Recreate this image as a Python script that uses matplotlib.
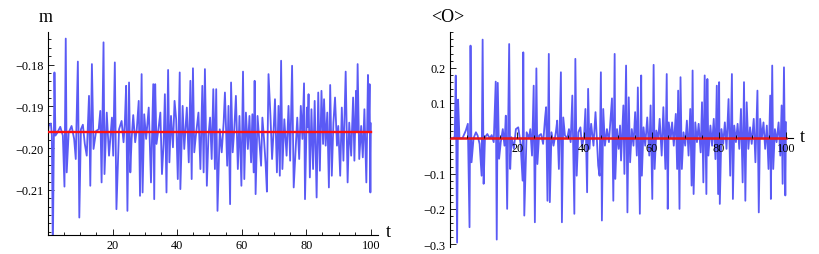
import matplotlib
matplotlib.use('Agg')
import matplotlib.pyplot as plt
from matplotlib.ticker import MultipleLocator

# m(t) (peaks and troughs)
t_m = [0.0, 0.2, 0.9, 1.2, 1.5, 2.0, 2.3, 2.9, 3.8, 4.6, 5.1, 5.5, 5.8, 6.4, 7.3,
       8.1, 8.6, 9.25, 9.7, 10.2, 10.8, 11.4, 12.0, 12.7, 13.1, 13.6, 14.1, 14.9,
       15.7, 16.2, 16.6, 17.2, 17.5, 18.2, 18.9, 19.8, 20.2, 20.7, 21.2, 22.0,
       22.8, 23.4, 23.8, 24.2, 24.6, 25.1, 25.5, 25.9, 26.4, 27.0, 27.5, 28.1,
       28.5, 29.0, 29.3, 29.8, 30.4, 31.2, 31.9, 32.6, 32.9, 33.2, 33.6, 34.2,
       34.8, 35.3, 35.8, 36.2, 36.7, 37.2, 37.6, 38.1, 38.7, 39.2, 39.7, 40.2,
       40.8, 41.0, 41.7, 42.2, 43.0, 43.6, 44.1, 44.5, 44.9, 45.3, 45.8, 46.6,
       47.2, 47.8, 48.2, 48.6, 49.2, 49.7, 50.2, 50.7, 51.2, 51.7, 52.1, 52.5,
       53.2, 53.8, 54.4, 54.8, 55.5, 55.9, 56.4, 56.7, 57.2, 57.7, 58.2, 58.8,
       59.3, 59.9, 60.4, 60.8, 61.3, 61.9, 62.4, 62.9, 63.3, 63.7, 64.0, 64.3,
       64.9, 65.5, 66.0, 66.4, 66.9, 67.4, 67.8, 68.3, 68.9, 69.4, 69.9, 70.3,
       70.9, 71.4, 71.8, 72.2, 72.6, 73.2, 73.9, 74.5, 75.0, 75.6, 76.1, 77.2,
       77.8, 78.3, 78.8, 79.3, 79.6, 80.2, 80.45, 80.7, 81.1, 81.6, 82.1, 82.6,
       83.2, 83.7, 84.2, 84.7, 85.2, 85.5, 86.0, 86.5, 87.0, 87.4, 87.9, 88.4,
       88.9, 89.5, 89.9, 90.5, 91.0, 91.5, 92.2, 92.8, 93.3, 93.9, 94.5, 94.9,
       95.4, 95.65, 95.9, 96.4, 97.0, 97.5, 98.0, 98.6, 99.1, 99.35, 99.6,
       99.85, 100.0]
m_vals = [-0.1960, -0.1947, -0.1941, -0.1969, -0.2250, -0.1819, -0.1970, -0.1963,
          -0.1949, -0.1970, -0.2092, -0.1738, -0.2058, -0.1963, -0.1947, -0.1978,
          -0.2026, -0.1793, -0.2166, -0.1955, -0.1944, -0.1990, -0.2018, -0.1875,
          -0.2090, -0.1799, -0.2002, -0.1959, -0.1955, -0.1911, -0.2082, -0.1747,
          -0.2062, -0.1915, -0.2018, -0.1927, -0.2018, -0.1795, -0.2146, -0.1955,
          -0.1935, -0.1986, -0.1939, -0.1851, -0.2150, -0.1843, -0.2058, -0.1978,
          -0.1921, -0.1986, -0.1955, -0.1887, -0.2114, -0.1823, -0.2106, -0.1919,
          -0.1978, -0.1903, -0.2082, -0.1847, -0.2122, -0.1847, -0.1990, -0.1955,
          -0.1915, -0.2062, -0.1990, -0.1871, -0.2106, -0.1813, -0.2034, -0.1923,
          -0.1998, -0.1887, -0.1931, -0.2074, -0.1819, -0.2098, -0.1899, -0.2002,
          -0.1903, -0.2034, -0.1839, -0.2074, -0.1809, -0.2010, -0.1970, -0.1915,
          -0.2050, -0.1851, -0.2058, -0.1811, -0.2090, -0.1970, -0.1927, -0.2026,
          -0.1859, -0.2050, -0.1859, -0.2150, -0.1955, -0.2010, -0.1939, -0.1867,
          -0.2042, -0.1899, -0.2134, -0.1843, -0.2010, -0.1955, -0.1875, -0.2050,
          -0.1923, -0.2090, -0.1817, -0.2074, -0.1915, -0.2002, -0.1923, -0.2034,
          -0.1919, -0.2058, -0.1839, -0.2110, -0.1923, -0.1990, -0.2042, -0.1927,
          -0.1978, -0.2038, -0.2104, -0.1823, -0.1923, -0.2026, -0.1955, -0.1883,
          -0.2058, -0.1899, -0.2066, -0.1791, -0.2050, -0.1931, -0.2018, -0.1899,
          -0.2030, -0.1803, -0.2094, -0.1927, -0.2026, -0.1899, -0.1978, -0.1845,
          -0.2122, -0.1903, -0.1950, -0.1871, -0.2070, -0.1907, -0.2050, -0.1887,
          -0.2118, -0.1867, -0.2054, -0.1863, -0.1990, -0.1883, -0.1994, -0.1915,
          -0.2094, -0.1849, -0.2066, -0.1939, -0.1879, -0.1994, -0.1947, -0.2066,
          -0.1903, -0.2030, -0.1817, -0.2082, -0.1939, -0.2018, -0.1879, -0.2030,
          -0.1863, -0.1960, -0.1799, -0.2026, -0.1947, -0.2022, -0.1907, -0.2082,
          -0.1825, -0.1960, -0.1847, -0.2106, -0.1941]
m_mean = -0.1961

# <O>(t)
t_o = [0.0, 1.0, 1.4, 1.7, 2.1, 2.4, 2.8, 3.7, 4.7, 5.3, 5.8, 6.1, 6.4, 7.0, 7.7,
       8.2, 8.8, 9.4, 9.7, 10.0, 10.4, 11.1, 11.8, 12.4, 13.0, 13.6, 13.9, 14.2,
       14.6, 15.1, 15.7, 16.2, 16.6, 17.0, 17.6, 17.9, 18.3, 19.0, 19.6, 20.3,
       21.0, 21.6, 21.8, 22.1, 22.8, 23.5, 23.9, 24.4, 24.9, 25.25, 25.7, 26.0,
       26.5, 27.1, 27.7, 28.3, 28.6, 29.0, 29.4, 29.7, 30.2, 30.8, 31.5, 31.9,
       32.4, 33.0, 33.3, 33.7, 34.2, 34.9, 35.4, 35.9, 36.4, 37.0, 37.3, 37.7,
       38.2, 38.8, 39.3, 39.9, 40.3, 40.8, 41.1, 41.5, 42.0, 42.7, 43.3, 44.1,
       44.5, 44.9, 45.2, 45.6, 46.1, 46.7, 47.3, 47.7, 48.2, 48.6, 49.0, 49.2,
       49.7, 50.2, 50.6, 50.9, 51.6, 51.9, 52.4, 52.8, 53.2, 53.6, 54.1, 54.6,
       55.1, 55.6, 55.9, 56.5, 56.9, 57.1, 57.6, 58.1, 58.7, 59.3, 59.7, 60.2,
       60.6, 60.9, 61.4, 62.0, 62.4, 63.0, 63.5, 64.1, 64.5, 64.8, 65.1, 65.7,
       66.1, 66.6, 67.2, 67.6, 67.9, 68.3, 68.6, 69.0, 69.5, 70.0, 70.5, 71.0,
       71.5, 71.9, 72.2, 72.5, 73.0, 73.5, 74.0, 74.6, 75.0, 75.4, 75.8, 76.3,
       76.6, 76.9, 77.5, 78.0, 78.5, 79.0, 79.4, 79.8, 80.1, 80.3, 80.8, 81.3,
       81.8, 82.3, 82.9, 83.4, 83.9, 84.2, 84.6, 85.1, 85.6, 86.1, 86.6, 87.1,
       87.5, 87.9, 88.3, 88.8, 89.3, 89.8, 90.4, 90.9, 91.5, 91.9, 92.3, 92.8,
       93.3, 93.8, 94.3, 94.8, 95.3, 95.5, 95.9, 96.2, 96.7, 97.2, 97.8, 98.3,
       98.7, 99.0, 99.4, 99.8, 100.0]
o_vals = [0.000, 0.000, 0.005, 0.1775, -0.2956, 0.1095, 0.000, 0.000, 0.022, 0.041,
          -0.252, 0.2625, -0.068, 0.000, 0.017, 0.008, -0.016, -0.106, 0.2795,
          -0.129, 0.003, 0.012, 0.000, 0.009, -0.011, 0.1605, -0.287, 0.157,
          -0.058, -0.011, 0.026, -0.021, 0.064, -0.200, 0.267, -0.087, 0.003,
          -0.030, 0.026, 0.031, -0.016, -0.120, 0.2435, -0.219, 0.017, 0.000,
          0.026, -0.049, 0.149, -0.238, 0.198, -0.073, 0.008, 0.012, -0.016,
          0.059, 0.088, -0.177, 0.239, -0.181, 0.017, -0.021, 0.017, 0.050,
          -0.087, 0.187, -0.238, 0.059, 0.008, 0.000, 0.026, -0.011, 0.121,
          -0.214, 0.225, -0.106, 0.017, 0.031, -0.025, 0.008, 0.083, -0.153,
          0.140, -0.030, 0.041, -0.021, 0.074, -0.077, -0.106, 0.187, -0.233,
          0.083, -0.021, 0.026, -0.011, 0.045, 0.113, -0.177, 0.239, -0.115,
          0.026, -0.030, 0.036, -0.063, 0.093, -0.101, 0.206, -0.210, 0.116,
          -0.068, 0.026, -0.021, 0.074, -0.049, 0.144, -0.214, 0.178, -0.106,
          0.031, -0.021, 0.059, -0.049, 0.093, -0.172, 0.208, -0.087, 0.022,
          0.000, 0.055, -0.049, 0.088, -0.087, 0.182, -0.200, 0.045, 0.000,
          0.045, -0.021, 0.069, -0.087, 0.135, -0.200, 0.173, -0.087, 0.017,
          -0.021, 0.050, -0.049, 0.083, -0.134, 0.192, -0.158, 0.045, -0.011,
          0.041, -0.040, 0.102, -0.125, 0.178, -0.158, 0.168, -0.049, 0.036,
          -0.021, 0.055, -0.059, 0.149, -0.158, 0.159, -0.186, 0.026, -0.016,
          0.045, -0.030, 0.111, -0.106, 0.182, -0.172, 0.036, -0.011, 0.041,
          -0.030, 0.083, -0.125, 0.159, -0.177, 0.102, -0.030, 0.031, -0.016,
          0.055, -0.068, 0.135, -0.210, 0.055, 0.000, 0.045, -0.030, 0.036,
          -0.087, 0.121, -0.172, 0.206, -0.087, 0.026, -0.011, 0.045, -0.049,
          0.093, -0.129, 0.201, -0.162, 0.045]
o_mean = 0.0

m_ticks = [-0.21, -0.20, -0.19, -0.18]
m_ticklabels = ['\u22120.21', '\u22120.20', '\u22120.19', '\u22120.18']
o_ticks = [-0.3, -0.2, -0.1, 0.1, 0.2]
o_ticklabels = ['\u22120.3', '\u22120.2', '\u22120.1', '0.1', '0.2']
t_ticks = [20, 40, 60, 80, 100]

plt.rcParams['font.family'] = ['Liberation Serif', 'DejaVu Serif']
plt.rcParams['axes.linewidth'] = 0.8

blue = '#5a5af5'

fig = plt.figure(figsize=(8.19, 2.55), dpi=100)
ax1 = fig.add_axes([0.0586, 0.0757, 0.4029, 0.7937])
ax2 = fig.add_axes([0.5495, 0.0275, 0.4184, 0.8430])

# left panel: m
ax1.plot(t_m, m_vals, color=blue, lw=1.3, zorder=2)
ax1.plot([0, 100], [m_mean, m_mean], color='#ff1010', lw=1.7, zorder=3)
ax1.set_xlim(0, 102.2)
ax1.set_ylim(-0.2207, -0.1723)
ax1.set_yticks(m_ticks)
ax1.set_yticklabels(m_ticklabels)
ax1.yaxis.set_minor_locator(MultipleLocator(0.002))

# right panel: <O>
ax2.plot(t_o, o_vals, color=blue, lw=1.3, zorder=2)
ax2.plot([0, 100], [o_mean, o_mean], color='#e81818', lw=1.8, zorder=3)
ax2.set_xlim(0, 102)
ax2.set_ylim(-0.308, 0.301)
ax2.set_yticks(o_ticks)
ax2.set_yticklabels(o_ticklabels)
ax2.yaxis.set_minor_locator(MultipleLocator(0.02))
ax2.spines['bottom'].set_position(('data', 0))
ax2.spines['bottom'].set_zorder(2.5)
ax2.xaxis.set_zorder(5)

for ax in (ax1, ax2):
    ax.patch.set_visible(False)
    ax.spines['top'].set_visible(False)
    ax.spines['right'].set_visible(False)
    ax.set_xticks(t_ticks)
    ax.set_xticklabels([str(v) for v in t_ticks])
    ax.xaxis.set_minor_locator(MultipleLocator(5))
    ax.tick_params(which='both', direction='in', width=0.6, labelsize=8.8, pad=3)
    ax.tick_params(which='major', length=4)
    ax.tick_params(which='minor', length=2.5)

fig.text(46 / 819, 1 - 17 / 255, 'm', fontsize=13, ha='center', va='center')
fig.text(448 / 819, 1 - 17 / 255, '<O>', fontsize=13, ha='center', va='center')
fig.text(388 / 819, 1 - 233 / 255, 't', fontsize=13, ha='center', va='center')
fig.text(802 / 819, 1 - 137 / 255, 't', fontsize=13, ha='center', va='center')

fig.savefig('out.png', dpi=100)
